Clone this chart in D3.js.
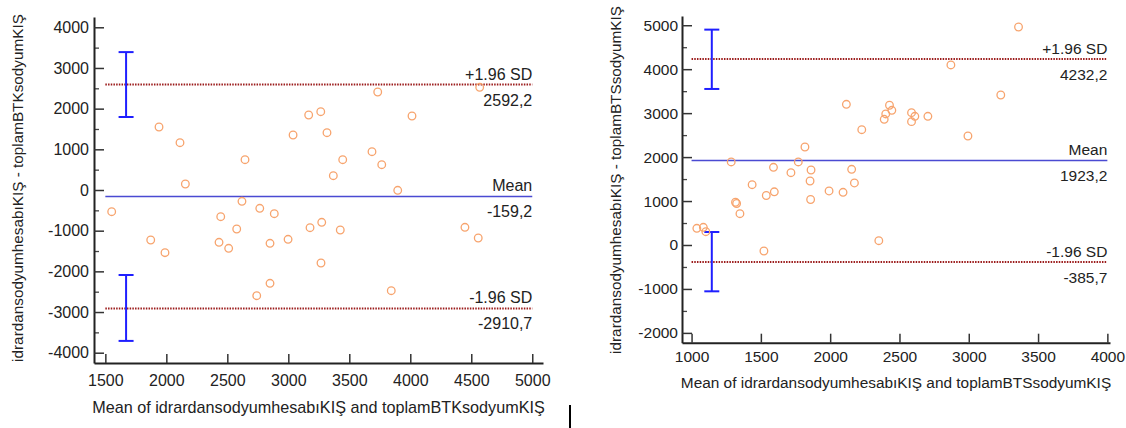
<!DOCTYPE html>
<html>
<head>
<meta charset="utf-8">
<script src="https://cdn.jsdelivr.net/npm/d3@7"></script>
<style>
  body { margin: 0; background: #fff; }
  svg text { font-family: "Liberation Sans", Arial, sans-serif; fill: #222; }
</style>
</head>
<body>
<script>
// left plot: BTK
const leftMeans = [1552, 1872, 1940, 1989, 2112, 2156, 2432, 2446, 2511, 2577, 2620, 2645, 2741, 2766, 2850, 2850, 2885, 2998, 3039, 3167, 3178, 3266, 3274, 3268, 3317, 3369, 3426, 3446, 3686, 3733, 3766, 3844, 3897, 4014, 4448, 4557, 4569]
const leftDiffs = [-534, -1229, 1549, -1541, 1163, 148, -1286, -656, -1433, -959, -278, 745, -2599, -450, -1310, -2294, -583, -1212, 1352, 1844, -927, 1925, -794, -1795, 1409, 352, -983, 745, 942, 2409, 622, -2476, -7, 1819, -917, -1180, 2525]
const leftLines = [2592.2, -159.2, -2910.7]
const leftCI = [[1795, 3390], [-3710, -2090]]
const leftXTicks = [1500, 2000, 2500, 3000, 3500, 4000, 4500, 5000]
const leftYTicks = [-4000, -3000, -2000, -1000, 0, 1000, 2000, 3000, 4000]

// right plot: BTS
const rightMeans = [1038, 1085, 1103, 1286, 1317, 1325, 1349, 1437, 1522, 1539, 1591, 1597, 1717, 1770, 1818, 1855, 1859, 1862, 1992, 2093, 2117, 2155, 2175, 2228, 2351, 2390, 2401, 2428, 2445, 2587, 2611, 2587, 2705, 2871, 2994, 3231, 3359]
const rightDiffs = [380, 403, 303, 1889, 972, 944, 712, 1372, -137, 1126, 1768, 1210, 1645, 1889, 2230, 1456, 1035, 1706, 1229, 1199, 3201, 1722, 1411, 2623, 98, 2860, 2981, 3179, 3065, 3010, 2928, 2806, 2928, 4096, 2480, 3413, 4960]
const rightLines = [4232.2, 1923.2, -385.7]
const rightCI = [[3550, 4900], [-1054, 296]]
const rightXTicks = [1000, 1500, 2000, 2500, 3000, 3500, 4000]
const rightYTicks = [-2000, -1000, 0, 1000, 2000, 3000, 4000, 5000]

const lineNames = ['+1.96 SD', 'Mean', '-1.96 SD']

const svg = d3.select('body').append('svg')
  .attr('width', 1126)
  .attr('height', 428)
  .style('display', 'block')

const fmt = v => d3.format('.1f')(v).replace('.', ',').replace('−', '-')

function drawPanel(p) {
  const g = svg.append('g')
  const x = d3.scaleLinear().domain(p.xDomain).range(p.xRange)
  const y = d3.scaleLinear().domain(p.yDomain).range(p.yRange)
  const x0 = p.xTicks[0], x1 = p.xTicks[p.xTicks.length - 1]
  const fs = p.fontSize + 'px'

  // minor y ticks
  const minor = []
  for (let v = p.yTicks[0] - 500; v <= p.yTicks[p.yTicks.length - 1] + 500; v += 1000) {
    if (v > p.yDomain[0] && v < p.yDomain[1]) minor.push(v)
  }
  g.append('g')
    .attr('transform', 'translate(' + p.xRange[0] + ',0)')
    .call(d3.axisLeft(y).tickValues(minor).tickSize(-5).tickFormat(''))
    .call(a => a.select('.domain').remove())
    .call(a => a.selectAll('line').attr('stroke', '#444').attr('stroke-width', 1.3))

  const yAxis = g.append('g')
    .attr('transform', 'translate(' + p.xRange[0] + ',0)')
    .call(d3.axisLeft(y).tickValues(p.yTicks).tickFormat(d => String(d))
      .tickSizeInner(-10).tickSizeOuter(0).tickPadding(p.yPad))
  const xAxis = g.append('g')
    .attr('transform', 'translate(0,' + p.yRange[0] + ')')
    .call(d3.axisBottom(x).tickValues(p.xTicks).tickFormat(d => String(d))
      .tickSizeInner(-9).tickSizeOuter(0).tickPadding(p.xPad))
  ;[yAxis, xAxis].forEach(a => {
    a.select('.domain').attr('stroke', '#222').attr('stroke-width', 2)
    a.selectAll('.tick line').attr('stroke', '#333').attr('stroke-width', 1.5)
    a.selectAll('.tick text').style('font-size', fs).attr('fill', '#222')
      .style('font-family', '"Liberation Sans", Arial, sans-serif')
  })

  // reference lines
  p.lines.forEach((v, i) => {
    const ly = y(v)
    g.append('line')
      .attr('x1', x(x0)).attr('x2', x(x1))
      .attr('y1', ly).attr('y2', ly)
      .attr('stroke', i === 1 ? '#4a4ad2' : '#9c1c1c')
      .attr('stroke-width', i === 1 ? 1.6 : 2)
      .attr('stroke-dasharray', i === 1 ? null : '1.5,1.2')
    g.append('text')
      .attr('x', x(x1)).attr('y', ly - 5)
      .attr('text-anchor', 'end')
      .style('font-size', fs)
      .text(lineNames[i])
    g.append('text')
      .attr('x', x(x1)).attr('y', ly + 21)
      .attr('text-anchor', 'end')
      .style('font-size', fs)
      .text(fmt(v))
  })

  // confidence interval bars
  p.ci.forEach(c => {
    const cx = x(p.ciX)
    g.append('line').attr('x1', cx).attr('x2', cx).attr('y1', y(c[0])).attr('y2', y(c[1]))
      .attr('stroke', '#1f1fff').attr('stroke-width', 2)
    c.forEach(v => {
      g.append('line').attr('x1', cx - 7.5).attr('x2', cx + 7.5).attr('y1', y(v)).attr('y2', y(v))
        .attr('stroke', '#1f1fff').attr('stroke-width', 2)
    })
  })

  // points
  g.selectAll('circle')
    .data(p.means.map((m, i) => [m, p.diffs[i]]))
    .enter()
    .append('circle')
    .attr('cx', d => x(d[0]))
    .attr('cy', d => y(d[1]))
    .attr('r', 3.8)
    .attr('fill', 'none')
    .attr('stroke', '#f7a46e')
    .attr('stroke-width', 1.3)

  // axis titles
  g.append('text')
    .attr('x', (p.xRange[0] + p.xRange[1]) / 2)
    .attr('y', p.xTitleY)
    .attr('text-anchor', 'middle')
    .style('font-size', p.xTitleSize + 'px')
    .text(p.xTitle)
  g.append('text')
    .attr('transform', 'translate(' + p.yTitleX + ',' + p.yTitleMid + ')rotate(-90)')
    .attr('text-anchor', 'middle')
    .style('font-size', '15.3px')
    .text(p.yTitle)
}

drawPanel({
  means: leftMeans, diffs: leftDiffs, lines: leftLines, ci: leftCI, ciX: 1670,
  xTicks: leftXTicks, yTicks: leftYTicks,
  xDomain: [1407, 5088], xRange: [94, 543],
  yDomain: [-4253, 4253], yRange: [363, 17],
  fontSize: 16, xTitleSize: 16.2,
  xPad: 12, yPad: 5, xTitleY: 413, yTitleX: 23, yTitleMid: 188,
  xTitle: 'Mean of idrardansodyumhesabıKIŞ and toplamBTKsodyumKIŞ',
  yTitle: 'idrardansodyumhesabıKIŞ - toplamBTKsodyumKIŞ'
})

drawPanel({
  means: rightMeans, diffs: rightDiffs, lines: rightLines, ci: rightCI, ciX: 1146,
  xTicks: rightXTicks, yTicks: rightYTicks,
  xDomain: [931, 4019], xRange: [682, 1110],
  yDomain: [-2223, 5210], yRange: [342.7, 16],
  fontSize: 15.5, xTitleSize: 15.4,
  xPad: 8, yPad: 4, xTitleY: 388, yTitleX: 621, yTitleMid: 180,
  xTitle: 'Mean of idrardansodyumhesabıKIŞ and toplamBTSsodyumKIŞ',
  yTitle: 'idrardansodyumhesabıKIŞ - toplamBTSsodyumKIŞ'
})

// stray cursor mark under the plots
svg.append('line')
  .attr('x1', 570).attr('x2', 570).attr('y1', 405).attr('y2', 428)
  .attr('stroke', '#000').attr('stroke-width', 2)
</script>
</body>
</html>
